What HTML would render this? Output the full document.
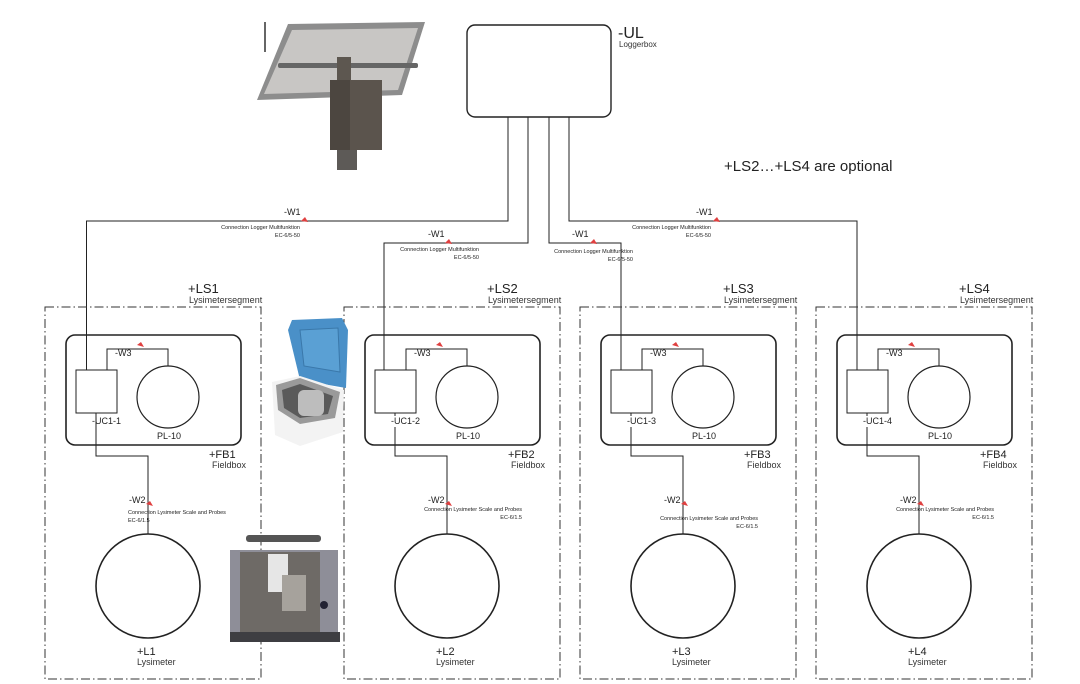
<!DOCTYPE html>
<html><head><meta charset="utf-8"><style>
html,body{margin:0;padding:0;background:#fff;}
svg{display:block;font-family:"Liberation Sans",sans-serif;}
</style></head><body>
<svg width="1080" height="684" viewBox="0 0 1080 684" xmlns="http://www.w3.org/2000/svg">
<defs>
<g id="sec">
  <rect x="45" y="307" width="216" height="372" fill="none" stroke="#333" stroke-width="1" stroke-dasharray="9,3,1.5,3"/>
  <text x="188" y="293" font-size="13" fill="#222">+LS1</text>
  <text x="189" y="303" font-size="9" fill="#333">Lysimetersegment</text>
  <rect x="66" y="335" width="175" height="110" rx="9" fill="none" stroke="#222" stroke-width="1.6"/>
  <rect x="76" y="370" width="41" height="43" fill="#fff" stroke="#222" stroke-width="1"/>
  <circle cx="168" cy="397" r="31" fill="none" stroke="#222" stroke-width="1.2"/>
  <polyline points="107,370 107,349 168,349 168,366" fill="none" stroke="#222" stroke-width="1"/>
  <text x="115" y="356" font-size="9" fill="#222">-W3</text>
  <path d="M137,345 l4,-3 l3,5 z" fill="#e04040"/>
  <text x="92" y="424" font-size="9" fill="#222">-UC1-1</text>
  <text x="157" y="439" font-size="9" fill="#222">PL-10</text>
  <text x="209" y="458" font-size="11" fill="#222">+FB1</text>
  <text x="212" y="468" font-size="9" fill="#333">Fieldbox</text>
  <polyline points="96,413 96,456 148,456 148,534" fill="none" stroke="#222" stroke-width="1"/>
  <circle cx="148" cy="586" r="52" fill="none" stroke="#222" stroke-width="1.6"/>
  <text x="129" y="503" font-size="9" fill="#222">-W2</text>
  <path d="M146,504 l4,-3 l3,5 z" fill="#e04040"/>
  <text x="137" y="655" font-size="11" fill="#222">+L1</text>
  <text x="137" y="665" font-size="9" fill="#333">Lysimeter</text>
</g>
</defs>

<!-- solar panel -->
<g>
  <line x1="265" y1="22" x2="265" y2="52" stroke="#333" stroke-width="1.5"/>
  <polygon points="288,24 425,22 402,95 257,100" fill="#8d8d8d"/>
  <polygon points="292,30 418,28 398,90 264,94" fill="#c8c6c4"/>
  <rect x="278" y="63" width="140" height="5" rx="2" fill="#666"/>
  <rect x="337" y="57" width="14" height="26" fill="#5d5750"/>
  <rect x="330" y="80" width="52" height="70" fill="#5b544d"/>
  <rect x="330" y="80" width="20" height="70" fill="#4c4640"/>
  <rect x="337" y="150" width="20" height="20" fill="#5d5a57"/>
</g>

<!-- logger box -->
<rect x="467" y="25" width="144" height="92" rx="8" fill="#fff" stroke="#222" stroke-width="1.4"/>
<text x="618" y="38" font-size="16" fill="#222">-UL</text>
<text x="619" y="47" font-size="8" fill="#333">Loggerbox</text>
<text x="724" y="171" font-size="15" fill="#222">+LS2…+LS4 are optional</text>

<!-- W1 wires -->
<g fill="none" stroke="#222" stroke-width="1">
  <polyline points="508,117 508,221 86.5,221 86.5,370"/>
  <polyline points="528,117 528,243 384,243 384,370"/>
  <polyline points="549,117 549,243 621,243 621,370"/>
  <polyline points="569,117 569,221 857,221 857,370"/>
</g>
<g fill="#e04040">
  <path d="M301,221 l4,-4 l3,5 z"/>
  <path d="M445,243 l4,-4 l3,5 z"/>
  <path d="M590,243 l4,-4 l3,5 z"/>
  <path d="M713,221 l4,-4 l3,5 z"/>
</g>
<g fill="#222">
  <text x="284" y="215" font-size="9">-W1</text>
  <text x="300" y="229" font-size="5.5" text-anchor="end">Connection Logger Multifunktion</text>
  <text x="300" y="237" font-size="5.5" text-anchor="end">EC-6/5-50</text>
  <text x="428" y="237" font-size="9">-W1</text>
  <text x="479" y="251" font-size="5.5" text-anchor="end">Connection Logger Multifunktion</text>
  <text x="479" y="259" font-size="5.5" text-anchor="end">EC-6/5-50</text>
  <text x="572" y="237" font-size="9">-W1</text>
  <text x="633" y="253" font-size="5.5" text-anchor="end">Connection Logger Multifunktion</text>
  <text x="633" y="261" font-size="5.5" text-anchor="end">EC-6/5-50</text>
  <text x="696" y="215" font-size="9">-W1</text>
  <text x="711" y="229" font-size="5.5" text-anchor="end">Connection Logger Multifunktion</text>
  <text x="711" y="237" font-size="5.5" text-anchor="end">EC-6/5-50</text>
</g>

<!-- sections -->
<use href="#sec"/>
<use href="#sec" transform="translate(299,0)"/>
<use href="#sec" transform="translate(535,0)"/>
<use href="#sec" transform="translate(771,0)"/>

<g fill="#fff">
  <rect x="486" y="280" width="40" height="15"/><rect x="722" y="280" width="40" height="15"/><rect x="958" y="280" width="40" height="15"/>
  <rect x="390" y="416" width="40" height="11"/><rect x="626" y="416" width="40" height="11"/><rect x="862" y="416" width="40" height="11"/>
  <rect x="507" y="447" width="34" height="13"/><rect x="743" y="447" width="34" height="13"/><rect x="979" y="447" width="34" height="13"/>
  <rect x="435" y="644" width="24" height="13"/><rect x="671" y="644" width="24" height="13"/><rect x="907" y="644" width="24" height="13"/>
</g>
<g fill="#222">
  <text x="487" y="293" font-size="13">+LS2</text><text x="723" y="293" font-size="13">+LS3</text><text x="959" y="293" font-size="13">+LS4</text>
  <text x="391" y="424" font-size="9">-UC1-2</text><text x="627" y="424" font-size="9">-UC1-3</text><text x="863" y="424" font-size="9">-UC1-4</text>
  <text x="508" y="458" font-size="11">+FB2</text><text x="744" y="458" font-size="11">+FB3</text><text x="980" y="458" font-size="11">+FB4</text>
  <text x="436" y="655" font-size="11">+L2</text><text x="672" y="655" font-size="11">+L3</text><text x="908" y="655" font-size="11">+L4</text>
</g>
<g fill="#222" font-size="5.5">
  <text x="128" y="514">Connection Lysimeter Scale and Probes</text>
  <text x="128" y="522">EC-6/1.5</text>
  <text x="522" y="511" text-anchor="end">Connection Lysimeter Scale and Probes</text>
  <text x="522" y="519" text-anchor="end">EC-6/1.5</text>
  <text x="758" y="520" text-anchor="end">Connection Lysimeter Scale and Probes</text>
  <text x="758" y="528" text-anchor="end">EC-6/1.5</text>
  <text x="994" y="511" text-anchor="end">Connection Lysimeter Scale and Probes</text>
  <text x="994" y="519" text-anchor="end">EC-6/1.5</text>
</g>

<!-- cooler box -->
<g>
  <polygon points="292,320 342,318 348,330 346,388 300,380 288,330" fill="#4a90c8"/>
  <polygon points="300,330 338,328 340,372 304,366" fill="#5aa0d4" stroke="#3a78aa" stroke-width="1"/>
  <polygon points="272,382 300,376 344,390 343,432 300,446 275,435" fill="#f3f3f3"/>
  <polygon points="276,385 300,378 340,392 335,418 300,424 278,410" fill="#9a9a9a"/>
  <polygon points="282,390 300,384 333,396 328,414 300,418 284,408" fill="#5a5a5a"/>
  <rect x="298" y="390" width="26" height="26" rx="6" fill="#bdbdbd"/>
</g>

<!-- lysimeter cylinder -->
<g>
  <rect x="246" y="535" width="75" height="7" rx="3" fill="#555"/>
  <rect x="230" y="550" width="108" height="92" fill="#8e8e98"/>
  <rect x="240" y="552" width="80" height="80" fill="#6e6a66"/>
  <rect x="268" y="554" width="20" height="38" fill="#e6e6e6"/>
  <rect x="282" y="575" width="24" height="36" fill="#a6a29c"/>
  <rect x="230" y="632" width="110" height="10" fill="#3e3e42"/>
  <circle cx="324" cy="605" r="4" fill="#223"/>
</g>
</svg>
</body></html>
